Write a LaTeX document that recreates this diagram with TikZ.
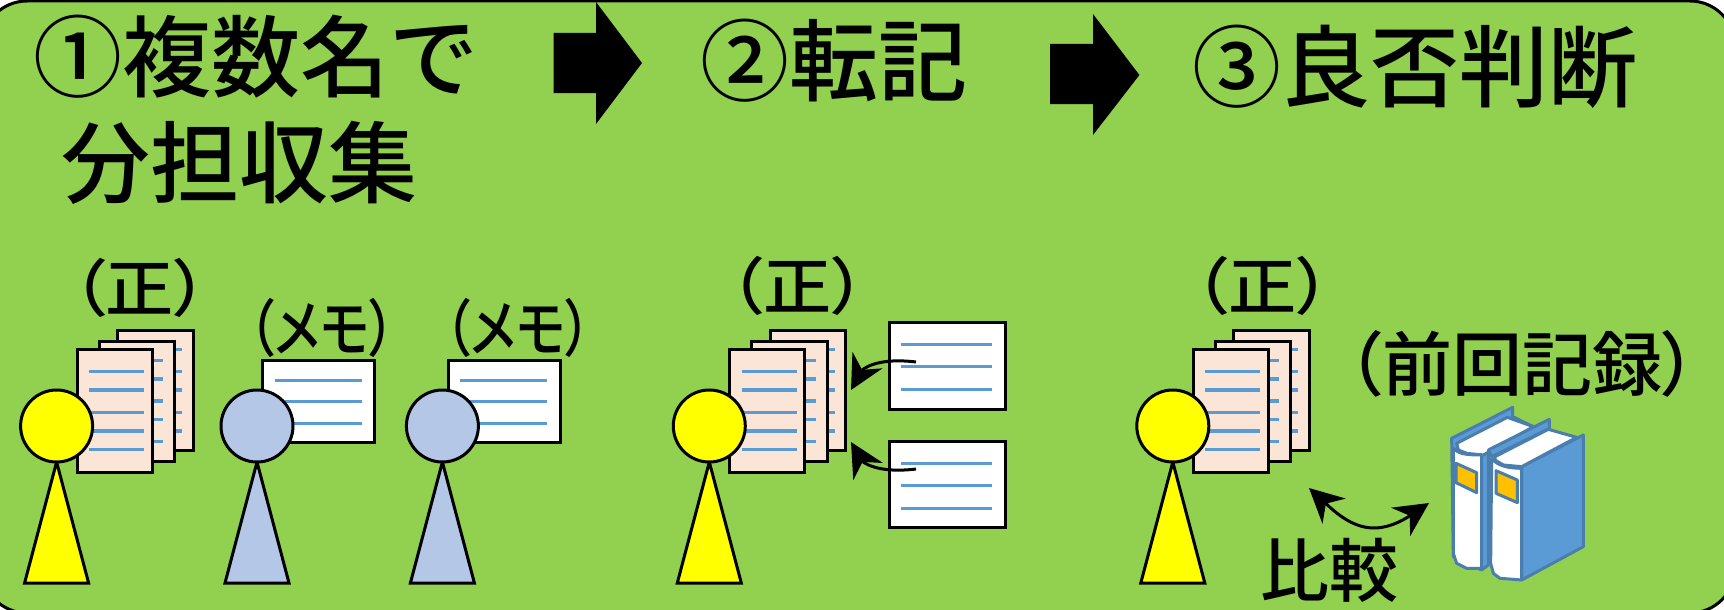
\documentclass[tikz,border=0pt]{standalone}
\usepackage{fontspec}
\usetikzlibrary{arrows.meta}
\newfontfamily\jp{Noto Sans CJK JP Medium}
\newfontfamily\jpprop[RawFeature=+palt]{Noto Sans CJK JP Medium}
\definecolor{kopfgelb}{RGB}{255,255,0}
\definecolor{hellgruen}{HTML}{92D050}
\definecolor{hellblau}{HTML}{B4C7E7}
\definecolor{zeilenblau}{HTML}{5B9BD5}
\definecolor{blattrosa}{HTML}{FBE5D6}
\definecolor{buchrand}{HTML}{4A7EAE}
\definecolor{etikett}{HTML}{FFC000}
\tikzset{
	titel/.style={anchor=base west,inner sep=0pt,font=\jp\fontsize{89}{89}\selectfont},
	klammer/.style={inner sep=0pt,font=\jpprop\fontsize{62}{62}\selectfont},
	blatt/.style={draw=black,fill=blattrosa,line width=3pt},
	zettel/.style={draw=black,fill=white,line width=3pt},
	zeile/.style={draw=zeilenblau,line width=3.2pt},
	umriss/.style={draw=black,line width=3pt},
	bogen/.style={line width=3pt,-{Stealth[length=34pt,width=34pt,inset=11pt]}},
	buch/.style={draw=buchrand,line width=3pt,line join=round},
}

\begin{document}
\begin{tikzpicture}[x=1pt,y=-1pt]

\def\figur#1#2{
	\draw[umriss,fill=#2] (#1,462)--({#1+32},583)--({#1-32},583)--cycle;
	\draw[umriss,fill=#2] (#1,426) circle[radius=36];
}

% Stapel mit drei Blaettern, #1 ist die Mitte der Figur
\def\stapel#1{
	\begin{scope}[shift={(#1,0)}]
	\draw[blatt] (61,330) rectangle (136.5,450);
	\foreach \y in {349.3,371.7,390,412.3,431} \draw[zeile] (100,\y)--(125.5,\y);
	\draw[blatt] (42.5,341) rectangle (118,461);
	\foreach \y in {360.3,379,401,419.7,441.7} \draw[zeile] (80,\y)--(106.5,\y);
	\draw[blatt] (20.5,349) rectangle (95.5,472);
	\foreach \y in {371.7,390,412.3,431,449.3} \draw[zeile] (32.5,\y)--(87.5,\y);
	\end{scope}
}

\def\memo#1#2#3#4{
	\draw[zettel] (#1,#2) rectangle (#3,#4);
	\foreach \t in {0.25,0.51,0.775}
		\draw[zeile] ({#1+12},{#2+\t*(#4-#2)})--({#3-13},{#2+\t*(#4-#2)});
}

\useasboundingbox (0,0) rectangle (1724,610);
\clip (0,0) rectangle (1724,610);
\fill[white] (0,0) rectangle (1724,610);
\draw[fill=hellgruen,line width=3pt,rounded corners=45pt] (-18,1) rectangle (1735,613);

% Ueberschriften
\node[titel] (schrittA) at (33,91) {①複数名で};
\node[titel] (schrittB) at (61,196) {分担収集};
\node[titel] (schrittC) at (700,94) {②転記};
\node[titel] (schrittD) at (1192,100) {③良否判断};

% Blockpfeile
\fill (553.6,33)--(596,33)--(596,2)--(642,63)--(596,124)--(596,93)--(553.6,93)--cycle;
\fill (1050,44)--(1093,44)--(1093,14)--(1139.4,75)--(1093,135)--(1093,104)--(1050,104)--cycle;

% linke Gruppe
\stapel{56.6}
\figur{56.6}{kopfgelb}
\memo{262.5}{360}{374.7}{442}
\figur{257}{hellblau}
\memo{448}{360}{560}{442}
\figur{442.4}{hellblau}
\node[klammer] (textA) at (140,288) {\scalebox{1.1}[1]{（正）}};
\node[klammer] (textB) at (322,328) {\scalebox{0.84}[1]{（メモ）}};
\node[klammer] (textC) at (518,328) {\scalebox{0.84}[1]{（メモ）}};

% mittlere Gruppe
\stapel{709.3}
\figur{709.3}{kopfgelb}
\memo{889}{322.7}{1005}{409}
\memo{889}{441.7}{1005}{527.7}
\node[klammer] (textD) at (797.5,286) {\scalebox{1.1}[1]{（正）}};
\coordinate (memoOben) at (916,362);
\coordinate (stapelOben) at (851,390);
\coordinate (memoUnten) at (916,469);
\coordinate (stapelUnten) at (851,442);
\draw[bogen] (memoOben) .. controls (875,357) and (862,370) .. (stapelOben);
\draw[bogen] (memoUnten) .. controls (875,474) and (862,461) .. (stapelUnten);

% rechte Gruppe
\stapel{1172.8}
\figur{1172.8}{kopfgelb}
\node[klammer] (textE) at (1262.5,286) {\scalebox{1.1}[1]{（正）}};
\node[klammer,font=\jpprop\fontsize{70}{70}\selectfont] (textF) at (1522,364) {（前回記録）};
\node[klammer,font=\jp\fontsize{69}{69}\selectfont] (textG) at (1329.5,570) {比較};
\coordinate (stapelRechts) at (1309,488);
\coordinate (buecherMitte) at (1374,528);
\coordinate (buecher) at (1429,503);
\draw[line width=3pt,{Stealth[length=34pt,width=34pt,inset=11pt]}-]
	(stapelRechts) .. controls (1335,512) and (1352,528) .. (buecherMitte);
\draw[bogen] (buecherMitte) .. controls (1392,528) and (1408,517) .. (buecher);

% Buecher
\begin{scope}[shift={(1420,400)},x=0.3333pt,y=-0.3333pt]
\draw[buch,fill=zeilenblau] (95,115)--(278,22)--(278,50)--(340,80)--(205,150)--(205,495)--(185,510)--(100,470)--cycle;
\draw[buch,fill=white] (110,130)--(262,52)--(340,80)--(190,165)--(140,160)--(115,150)--cycle;
\draw[buch,fill=white] (100,145)..controls (115,160) and (130,165)..(185,165)--(185,505)--(140,505)--(110,490)--(100,460)--cycle;
\draw[buch,fill=etikett] (108,190)--(170,218)--(170,278)--(108,248)--cycle;
\draw[buch,fill=zeilenblau] (305,200)--(490,105)--(490,440)--(305,540)--cycle;
\draw[buch,fill=zeilenblau] (205,150)--(388,58)--(388,85)--(215,170)--cycle;
\draw[buch,fill=white] (225,170)--(385,88)--(470,112)--(305,200)--(250,195)--(225,180)--cycle;
\draw[buch,fill=white] (215,175)..controls (230,195) and (260,205)..(305,205)--(305,540)--(240,535)--(220,520)--(212,490)--cycle;
\draw[buch,fill=etikett] (228,212)--(292,240)--(292,308)--(228,280)--cycle;
\end{scope}

\end{tikzpicture}
\end{document}
